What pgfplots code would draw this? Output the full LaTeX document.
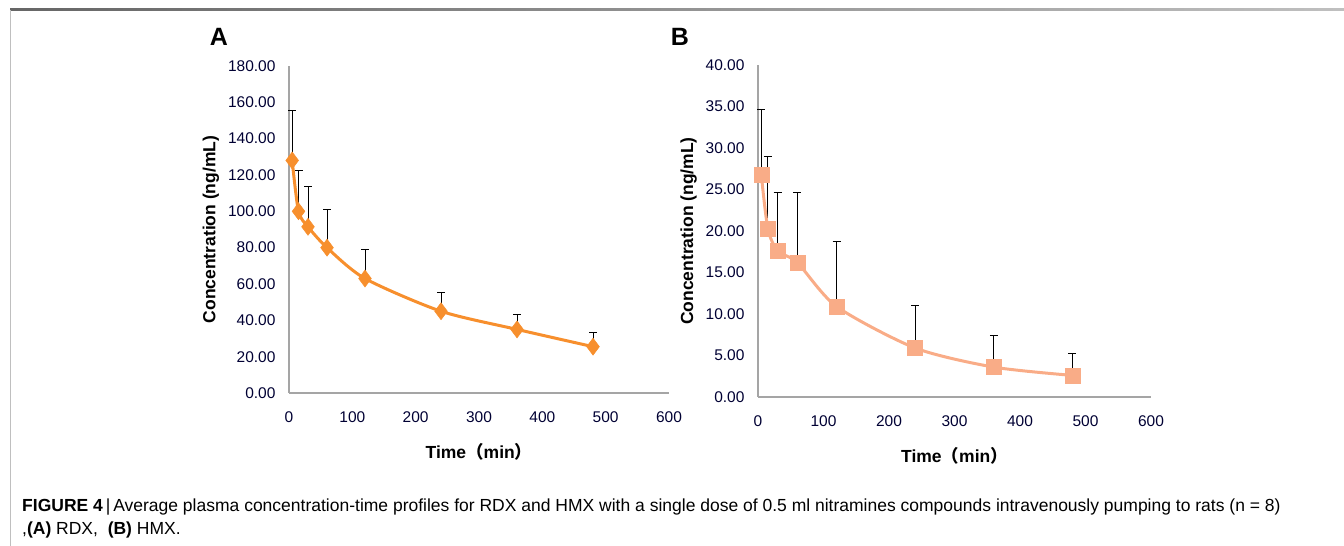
\documentclass[border=0pt]{standalone}
\usepackage{fontspec}
\setmainfont{Liberation Sans}
\newfontfamily\cjk{Noto Sans CJK SC}
\usepackage{pgfplots}
\pgfplotsset{compat=1.18}

\definecolor{rdx}{RGB}{247,143,45}
\definecolor{hmx}{RGB}{249,172,135}
\definecolor{axgray}{RGB}{165,165,165}

% mean concentration and upper SD, RDX
\pgfplotstableread{
t   c      sd
5   128.0  27.4
15  100.0  22.3
30  91.5   22.0
60  80.0   21.1
120 63.0   16.1
240 45.0   10.4
360 35.0   8.5
480 25.5   7.9
}\rdxdata
% HMX
\pgfplotstableread{
t   c     sd
5   26.8  7.8
15  20.3  8.7
30  17.6  7.0
60  16.2  8.4
120 10.9  7.8
240 5.9   5.1
360 3.6   3.8
480 2.6   2.7
}\hmxdata

\pgfplotsset{
  pk/.style={
    scale only axis,
    xmin=0, xmax=600,
    axis lines=left,
    axis line style={-, draw=axgray, line width=1.2pt},
    major tick length=0pt,
    xtick={0,100,...,600},
    tick label style={font=\fontsize{15.5}{15.5}\selectfont, text=black!80!blue},
    /pgf/number format/assume math mode=true,
    yticklabel style={xshift=-10pt, /pgf/number format/.cd, fixed, fixed zerofill, precision=2},
    xticklabel style={yshift=-15pt},
    xlabel={\bfseries Time{\cjk （}min{\cjk ）}},
    ylabel={\bfseries Concentration (ng/mL)},
    label style={font=\fontsize{17.5}{17.5}\selectfont},
    clip=false,
  },
  sdbars/.style={
    draw=none, mark=none, forget plot,
    error bars/.cd, y dir=plus, y explicit,
    error bar style={draw=black, line width=0.9pt},
    error mark options={rotate=90, mark size=4pt, draw=black, line width=0.9pt},
  },
}

\begin{document}
\begin{tikzpicture}[x=1pt, y=1pt]
  \useasboundingbox (0,0) rectangle (1344,546);
  % frame
  \shade[left color=black!60, right color=black!25] (10,535) rectangle (1344,537);
  \draw[black!25, line width=1pt] (10,536) -- (10,0);

  \node[font=\fontsize{25}{25}\selectfont\bfseries] at (219,509) {A};
  \node[font=\fontsize{25}{25}\selectfont\bfseries] at (680,509) {B};

  % (A) RDX
  \begin{axis}[pk, at={(289pt,153pt)}, anchor=south west,
      width=380pt, height=327pt,
      ymin=0, ymax=180, ytick={0,20,...,180},
      xlabel style={yshift=-14pt}, ylabel style={yshift=2pt}]
    \addplot[sdbars] table[x=t, y=c, y error=sd] {\rdxdata};
    \addplot[rdx, line width=3pt, smooth, tension=0.45, mark=diamond*,
      mark size=8.5pt, mark options={fill=rdx, draw=rdx, line width=0.5pt}]
      table[x=t, y=c] {\rdxdata};
  \end{axis}

  % (B) HMX
  \begin{axis}[pk, at={(758pt,149pt)}, anchor=south west,
      width=393pt, height=332pt,
      ymin=0, ymax=40, ytick={0,5,...,40},
      xlabel style={yshift=-14pt}, ylabel style={yshift=2pt}]
    \addplot[sdbars] table[x=t, y=c, y error=sd] {\hmxdata};
    \addplot[hmx, line width=3pt, smooth, tension=0.45, mark=square*,
      mark size=7.5pt, mark options={fill=hmx, draw=hmx, line width=0.5pt}]
      table[x=t, y=c] {\hmxdata};
  \end{axis}

  % caption
  \node[anchor=base west, inner sep=0pt, font=\fontsize{17.5}{17.5}\selectfont] at (22,34)
    {\textbf{FIGURE 4}\,|\,Average plasma concentration-time profiles for RDX and HMX with a single dose of 0.5 ml nitramines compounds intravenously pumping to rats (n = 8)};
  \node[anchor=base west, inner sep=0pt, font=\fontsize{17.5}{17.5}\selectfont] at (22,11)
    {,\textbf{(A)} RDX, \ \textbf{(B)} HMX.};
\end{tikzpicture}
\end{document}
